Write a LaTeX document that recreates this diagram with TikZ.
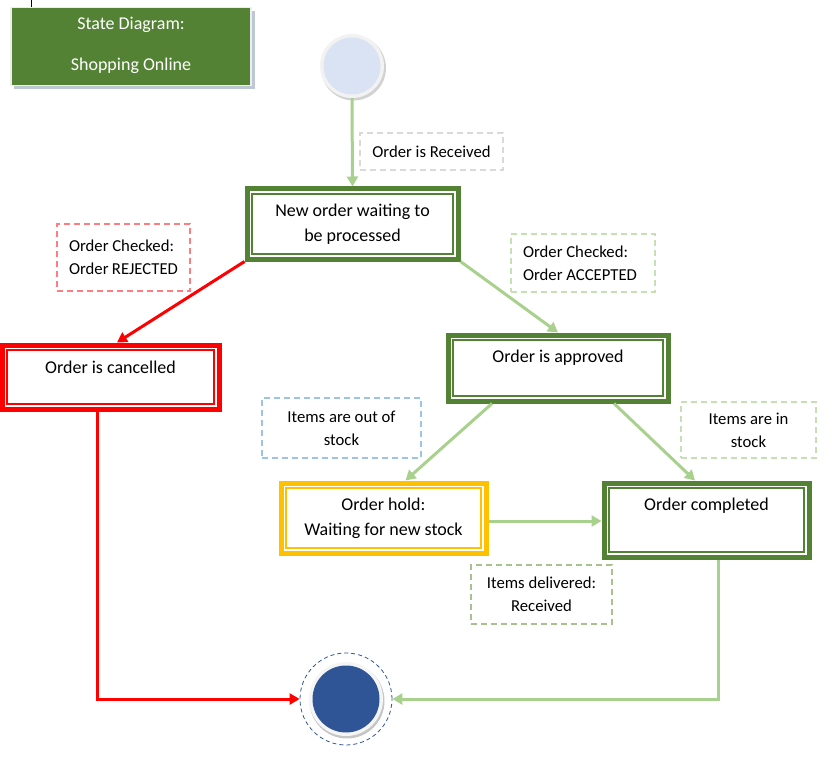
\documentclass[tikz,border=0pt]{standalone}
\usepackage{fontspec}
\setmainfont{Carlito}
\usetikzlibrary{arrows.meta,calc}

\definecolor{dkgreen}{HTML}{548235}
\definecolor{ltgreen}{HTML}{A9D18E}
\definecolor{palegreen}{HTML}{C5E0B4}
\definecolor{olivegreen}{HTML}{A9C18E}
\definecolor{pinkred}{HTML}{FF7C80}
\definecolor{amber}{HTML}{FFC000}
\definecolor{navy}{HTML}{2F5597}
\definecolor{skyblue}{HTML}{9DC3E6}
\definecolor{startfill}{HTML}{DAE3F3}
\definecolor{lightgray}{HTML}{D9D9D9}
\definecolor{shadowgray}{HTML}{C0C7D4}

\tikzset{
  statebox/.style={draw=#1, line width=5pt, fill=white, inner sep=0pt},
  innerline/.style={draw=#1, line width=1.2pt},
  statetext/.style={font=\fontsize{18}{25}\selectfont, align=center, inner sep=0pt},
  lbl/.style={draw=#1, line width=1.5pt, dash pattern=on 6pt off 4pt, inner sep=0pt,
    align=center, font=\fontsize{16.7}{23}\selectfont},
  lblleft/.style={lbl=#1, align=flush left, inner xsep=12pt},
  flow/.style={draw=ltgreen, line width=3pt, -{Triangle[length=10pt,width=11pt]}},
  reject/.style={draw=red, line width=3pt, -{Triangle[length=10pt,width=11pt]}},
}

\begin{document}
\begin{tikzpicture}[x=1pt,y=-1pt]
\useasboundingbox (0,0) rectangle (832,762);

% title panel
\draw[black, line width=0.8pt] (31,0) -- (31,9);
\fill[shadowgray] (14,11) rectangle (255,89);
\node[draw=white!93!black, line width=1.5pt, fill=dkgreen, minimum width=240pt, minimum height=78pt,
  inner sep=0pt] (title) at (131,46.5) {};
\node[text=white, font=\fontsize{18}{25}\selectfont, inner sep=0pt] (title1) at (131,25) {State Diagram:};
\node[text=white, font=\fontsize{18}{25}\selectfont, inner sep=0pt] (title2) at (131,66) {Shopping Online};

% initial state
\fill[gray!35] (353.5,68) circle (32.5);
\node[circle, fill=gray!10, minimum size=64pt, inner sep=0pt] (start) at (352,66) {};
\fill[startfill] (start.center) circle (28.5);

% final state
\node[circle, draw=navy, line width=0.8pt, dash pattern=on 4pt off 3pt, minimum size=92pt,
  inner sep=0pt] (end) at (346,699) {};
\fill[gray!45] (347,701) circle (37.5);
\fill[gray!8] (end.center) circle (37);
\fill[navy] (end.center) circle (33.5);

% states
\node[statebox=dkgreen, minimum width=211pt, minimum height=70pt] (new) at (352.5,224) {};
\draw[innerline=dkgreen] ($(new.north west)+(7.5pt,-7.5pt)$) rectangle ($(new.south east)+(-7.5pt,7.5pt)$);
\node[statetext] (newt) at (new.center) {New order waiting to\\be processed};

\node[statebox=red, minimum width=217pt, minimum height=64pt] (canc) at (110.5,377) {};
\draw[innerline=red] ($(canc.north west)+(7.5pt,-7.5pt)$) rectangle ($(canc.south east)+(-7.5pt,7.5pt)$);
\node[statetext] (canct) at ([yshift=10pt]canc.center) {Order is cancelled};

\node[statebox=dkgreen, minimum width=220pt, minimum height=66pt] (appr) at (558,368) {};
\draw[innerline=dkgreen] ($(appr.north west)+(7.5pt,-7.5pt)$) rectangle ($(appr.south east)+(-7.5pt,7.5pt)$);
\node[statetext] (apprt) at ([yshift=10pt]appr.center) {Order is approved};

\node[statebox=amber, minimum width=205pt, minimum height=70pt] (hold) at (383.5,518) {};
\draw[innerline=amber] ($(hold.north west)+(7.5pt,-7.5pt)$) rectangle ($(hold.south east)+(-7.5pt,7.5pt)$);
\node[statetext] (holdt) at (hold.center) {Order hold:\\Waiting for new stock};

\node[statebox=dkgreen, minimum width=205pt, minimum height=74pt] (comp) at (706.5,520) {};
\draw[innerline=dkgreen] ($(comp.north west)+(7.5pt,-7.5pt)$) rectangle ($(comp.south east)+(-7.5pt,7.5pt)$);
\node[statetext] (compt) at ([yshift=14pt]comp.center) {Order completed};

% transition labels
\node[lbl=lightgray, minimum width=143pt, minimum height=37pt] (lrec) at (431.5,151.5) {Order is Received};
\node[lblleft=pinkred, text width=109pt, minimum height=67pt] (lrej) at (123.5,257.5) {Order Checked:\\Order REJECTED};
\node[lblleft=palegreen, text width=120pt, minimum height=58pt] (lacc) at (583,263) {Order Checked:\\Order ACCEPTED};
\node[lbl=skyblue, minimum width=159pt, minimum height=60pt] (lout) at (341.5,428) {Items are out of\\stock};
\node[lbl=palegreen, minimum width=135pt, minimum height=56pt] (lin) at (748.5,430) {Items are in\\stock};
\node[lbl=olivegreen, minimum width=141pt, minimum height=59pt] (ldel) at (541.5,594.5) {Items delivered:\\Received};

% transitions
\draw[flow] (start.south) -- (new.north);
\draw[reject] (new.south west) -- ($(canc.north)+(6.5,0)$);
\draw[reject] ($(canc.south)+(-13.5,0)$) |- (end.west);
\draw[flow] (new.south east) -- (appr.north);
\draw[flow] ($(appr.south)+(-66,0)$) -- ($(hold.north)+(22,0)$);
\draw[flow] ($(appr.south)+(56,0)$) -- ($(comp.north)+(-11.5,0)$);
\coordinate (holdout) at ($(hold.east)+(0,3)$);
\draw[flow] (holdout) -- (holdout -| comp.west);
\draw[flow] ($(comp.south)+(11.5,0)$) |- (end.east);
\end{tikzpicture}
\end{document}
